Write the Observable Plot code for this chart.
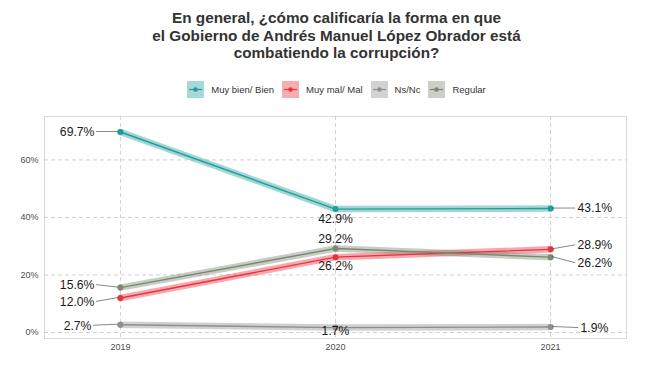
<!DOCTYPE html>
<html>
<head>
<meta charset="utf-8">
<script src="https://cdn.jsdelivr.net/npm/d3@7"></script>
<script src="https://cdn.jsdelivr.net/npm/@observablehq/plot@0.6"></script>
<style>
  body { margin: 0; background: #fff; font-family: "Liberation Sans", Arial, sans-serif; }
  #wrap { width: 655px; height: 375px; position: relative; overflow: hidden; background: #fff; }
  #title { position: absolute; left: 18px; width: 637px; top: 9px; text-align: center; font-weight: bold;
           font-size: 15.3px; line-height: 17.5px; color: #333; }
  #legend { position: absolute; left: 18px; width: 637px; top: 81px; display: flex; justify-content: center;
            align-items: center; font-size: 9.5px; color: #333; }
  .item { display: flex; align-items: center; margin: 0 4px; }
  .item svg { margin-right: 7px; }
  #chart { position: absolute; left: 0; top: 105px; }
</style>
</head>
<body>
<div id="wrap">
  <div id="title">En general, ¿cómo calificaría la forma en que<br>el Gobierno de Andrés Manuel López Obrador está<br>combatiendo la corrupción?</div>
  <div id="legend"></div>
  <div id="chart"></div>
</div>
<script>
// ---- data ----
const years = [2019, 2020, 2021];
const seriesNames = ["Muy bien/ Bien", "Muy mal/ Mal", "Ns/Nc", "Regular"];
const muyBien = [69.7, 42.9, 43.1];
const muyMal = [12.0, 26.2, 28.9];
const nsNc = [2.7, 1.7, 1.9];
const regular = [15.6, 29.2, 26.2];
const yTicks = [0, 20, 40, 60];
const colors = ["#1f9e99", "#e8333f", "#8f8f8f", "#7c8873"];

const seriesValues = [muyBien, muyMal, nsNc, regular];
const table = seriesNames.flatMap((s, i) =>
  years.map((yr, j) => ({serie: s, year: yr, value: seriesValues[i][j]})));

// label layout (pixel offsets from each point)
const labelLayout = [
  {s: 0, year: 2019, dx: -26, dy: 0, anchor: "end"},
  {s: 1, year: 2019, dx: -26, dy: 4, anchor: "end"},
  {s: 2, year: 2019, dx: -29, dy: 1, anchor: "end"},
  {s: 3, year: 2019, dx: -26, dy: -2.5, anchor: "end"},
  {s: 0, year: 2020, dx: 0, dy: 10, anchor: "middle"},
  {s: 1, year: 2020, dx: 0, dy: 9, anchor: "middle"},
  {s: 2, year: 2020, dx: 0, dy: 3, anchor: "middle"},
  {s: 3, year: 2020, dx: 0, dy: -9, anchor: "middle"},
  {s: 0, year: 2021, dx: 27, dy: 0, anchor: "start"},
  {s: 1, year: 2021, dx: 27, dy: -4, anchor: "start"},
  {s: 2, year: 2021, dx: 30, dy: 1, anchor: "start"},
  {s: 3, year: 2021, dx: 27, dy: 6, anchor: "start"}
];
const labels = labelLayout.map(L => {
  const v = seriesValues[L.s][years.indexOf(L.year)];
  return {...L, value: v, text: v.toFixed(1) + "%"};
});

// ---- legend ----
const legend = d3.select("#legend");
seriesNames.forEach((name, i) => {
  const it = legend.append("div").attr("class", "item");
  const svg = it.append("svg").attr("width", 17).attr("height", 17);
  svg.append("rect").attr("width", 17).attr("height", 17).attr("fill", colors[i]).attr("fill-opacity", 0.4);
  svg.append("line").attr("x1", 2).attr("x2", 15).attr("y1", 8.5).attr("y2", 8.5)
     .attr("stroke", colors[i]).attr("stroke-width", 1.2);
  svg.append("circle").attr("cx", 8.5).attr("cy", 8.5).attr("r", 2.3).attr("fill", colors[i]);
  it.append("span").text(name);
});

// ---- leader lines (use Plot scales) ----
function leaders(index, scales) {
  const g = d3.create("svg:g").attr("stroke", "#555").attr("stroke-width", 0.7).attr("fill", "none");
  for (const L of labels) {
    if (L.anchor === "middle") continue;
    const px = scales.x(L.year), py = scales.y(L.value);
    const sgn = L.anchor === "end" ? -1 : 1;
    g.append("line")
      .attr("x1", px + sgn * 2).attr("y1", py)
      .attr("x2", px + L.dx - sgn * 2).attr("y2", py + L.dy);
  }
  return g.node();
}

const textMarks = labels.map(L =>
  Plot.text([L], {x: "year", y: "value", text: "text", dx: L.dx, dy: L.dy, textAnchor: L.anchor,
                  fontSize: 12.2, fill: "#1a1a1a"}));

const chart = Plot.plot({
  width: 655, height: 255,
  marginLeft: 44, marginRight: 29, marginTop: 11, marginBottom: 22,
  style: {fontSize: "9px", color: "#4d4d4d", fontFamily: "Liberation Sans, Arial, sans-serif", background: "white", overflow: "visible"},
  x: {domain: [2018.647, 2021.353], ticks: 3, tickFormat: d3.format("d"), tickSize: 0, tickPadding: 5, label: null, line: true},
  y: {domain: [-2.09, 75.1], ticks: 4, tickFormat: d => d + "%", tickSize: 0, tickPadding: 6, label: null, line: true},
  color: {domain: seriesNames, range: colors},
  marks: [
    Plot.frame({stroke: "#d9d9d9"}),
    Plot.ruleY(yTicks, {stroke: "#c4c4c4", strokeDasharray: "4,3", strokeWidth: 0.8}),
    Plot.ruleX(years, {stroke: "#c4c4c4", strokeDasharray: "4,3", strokeWidth: 0.8}),
    Plot.line(table, {x: "year", y: "value", z: "serie", stroke: "serie", strokeWidth: 6.5, strokeOpacity: 0.42}),
    Plot.line(table, {x: "year", y: "value", z: "serie", stroke: "serie", strokeWidth: 1.4}),
    Plot.dot(table, {x: "year", y: "value", fill: "serie", r: 3}),
    leaders,
    ...textMarks
  ]
});
document.getElementById("chart").appendChild(chart);
</script>
</body>
</html>
